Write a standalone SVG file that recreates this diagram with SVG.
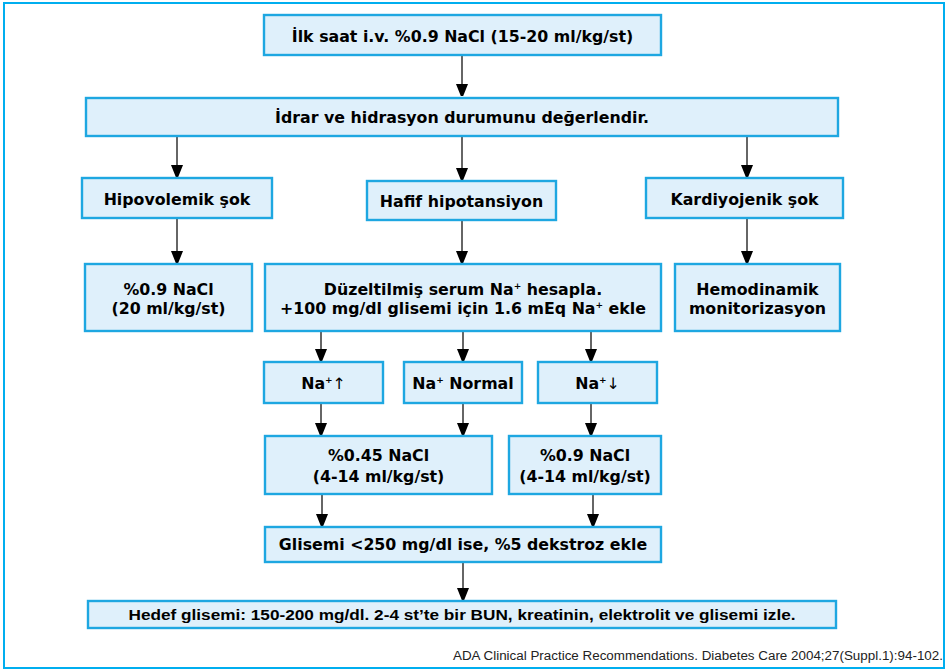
<svg xmlns="http://www.w3.org/2000/svg" width="948" height="672" viewBox="0 0 948 672">
  <defs>
    <marker id="arrow" viewBox="0 0 12 15" refX="12" refY="6" markerWidth="12" markerHeight="15" markerUnits="userSpaceOnUse" orient="auto">
      <path d="M0,0 L15,6 L0,12 Z" fill="#000"/>
    </marker>
    <style>
      .box { fill: #dff0fb; stroke: #1ea7e1; stroke-width: 2.4; }
      .t { font-family: "DejaVu Sans", "Liberation Sans", sans-serif; font-weight: bold; font-size: 15.8px; fill: #000; text-anchor: middle; }
      .sup { font-size: 9px; }
      .ar { font-family: "DejaVu Sans", sans-serif; font-weight: normal; fill: #000; }
      .conn line { stroke: #333; stroke-width: 1.5; marker-end: url(#arrow); }
      .cite { font-family: "Liberation Sans", Arial, sans-serif; font-size: 12px; fill: #222; text-anchor: end; }
      .note { font-family: "Liberation Sans", Arial, sans-serif; font-weight: bold; font-size: 14.5px; fill: #000; text-anchor: middle; }
    </style>
  </defs>
  <rect width="948" height="672" fill="#fff"/>
  <!-- outer frame -->
  <rect x="4" y="3" width="940" height="665" fill="none" stroke="#00aeef" stroke-width="2"/>

  <!-- connectors -->
  <g class="conn">
    <line x1="462" y1="56" x2="462" y2="96"/>
    <line x1="177" y1="137" x2="177" y2="177"/>
    <line x1="462" y1="137" x2="462" y2="180"/>
    <line x1="747" y1="137" x2="747" y2="177"/>
    <line x1="177" y1="219" x2="177" y2="263"/>
    <line x1="462" y1="221" x2="462" y2="263"/>
    <line x1="747" y1="219" x2="747" y2="263"/>
    <line x1="321" y1="332" x2="321" y2="361"/>
    <line x1="463" y1="332" x2="463" y2="361"/>
    <line x1="591" y1="332" x2="591" y2="361"/>
    <line x1="321" y1="404" x2="321" y2="435"/>
    <line x1="463" y1="404" x2="463" y2="435"/>
    <line x1="591" y1="404" x2="591" y2="435"/>
    <line x1="322" y1="495" x2="322" y2="526"/>
    <line x1="593" y1="495" x2="593" y2="526"/>
    <line x1="463" y1="563" x2="463" y2="600"/>
  </g>

  <g id="ilk-saat">
    <rect class="box" x="264" y="15" width="397" height="40"/>
    <text class="t" x="462.5" y="41.5">İlk saat i.v. %0.9 NaCl (15-20 ml/kg/st)</text>
  </g>
  <g id="idrar">
    <rect class="box" x="86" y="98" width="752" height="38"/>
    <text class="t" x="462" y="123">İdrar ve hidrasyon durumunu değerlendir.</text>
  </g>
  <g id="hipovolemik">
    <rect class="box" x="82" y="178" width="190" height="40"/>
    <text class="t" x="177" y="205">Hipovolemik şok</text>
  </g>
  <g id="hafif">
    <rect class="box" x="367" y="181" width="189" height="39"/>
    <text class="t" x="461.5" y="207">Hafif hipotansiyon</text>
  </g>
  <g id="kardiyojenik">
    <rect class="box" x="646" y="178" width="197" height="40"/>
    <text class="t" x="744.5" y="205">Kardiyojenik şok</text>
  </g>
  <g id="nacl-20">
    <rect class="box" x="85" y="264" width="167" height="67"/>
    <text class="t" x="168.5" y="294.5">%0.9 NaCl</text>
    <text class="t" x="168.5" y="313.5">(20 ml/kg/st)</text>
  </g>
  <g id="duzeltilmis">
    <rect class="box" x="265" y="264" width="396" height="67"/>
    <text class="t" x="463" y="294.5">Düzeltilmiş serum Na<tspan class="sup" dy="-6">+</tspan><tspan dy="6"> hesapla.</tspan></text>
    <text class="t" x="463" y="313.5">+100 mg/dl glisemi için 1.6 mEq Na<tspan class="sup" dy="-6">+</tspan><tspan dy="6"> ekle</tspan></text>
  </g>
  <g id="hemodinamik">
    <rect class="box" x="675" y="264" width="165" height="67"/>
    <text class="t" x="757.5" y="294.5">Hemodinamik</text>
    <text class="t" x="757.5" y="313.5">monitorizasyon</text>
  </g>
  <g id="na-yuksek">
    <rect class="box" x="264" y="362" width="119" height="41"/>
    <text class="t" x="323.5" y="388.5">Na<tspan class="sup" dy="-6">+</tspan><tspan class="ar" dy="6">↑</tspan></text>
  </g>
  <g id="na-normal">
    <rect class="box" x="404" y="362" width="118" height="41"/>
    <text class="t" x="463" y="388.5">Na<tspan class="sup" dy="-6">+</tspan><tspan dy="6"> Normal</tspan></text>
  </g>
  <g id="na-dusuk">
    <rect class="box" x="538" y="362" width="119" height="41"/>
    <text class="t" x="597.5" y="388.5">Na<tspan class="sup" dy="-6">+</tspan><tspan class="ar" dy="6">↓</tspan></text>
  </g>
  <g id="nacl-045">
    <rect class="box" x="265" y="436" width="227" height="58"/>
    <text class="t" x="378.5" y="461">%0.45 NaCl</text>
    <text class="t" x="378.5" y="481.5">(4-14 ml/kg/st)</text>
  </g>
  <g id="nacl-09">
    <rect class="box" x="509" y="436" width="152" height="58"/>
    <text class="t" x="585" y="461">%0.9 NaCl</text>
    <text class="t" x="585" y="481.5">(4-14 ml/kg/st)</text>
  </g>
  <g id="glisemi">
    <rect class="box" x="265" y="527" width="396" height="35"/>
    <text class="t" x="463" y="550">Glisemi &lt;250 mg/dl ise, %5 dekstroz ekle</text>
  </g>
  <g id="hedef">
    <rect class="box" x="88" y="601" width="748" height="27"/>
    <text class="note" x="462" y="620" textLength="667" lengthAdjust="spacingAndGlyphs">Hedef glisemi: 150-200 mg/dl. 2-4 st’te bir BUN, kreatinin, elektrolit ve glisemi izle.</text>
  </g>

  <text class="cite" x="943" y="660" textLength="490" lengthAdjust="spacingAndGlyphs">ADA Clinical Practice Recommendations. Diabetes Care 2004;27(Suppl.1):94-102.</text>
</svg>
